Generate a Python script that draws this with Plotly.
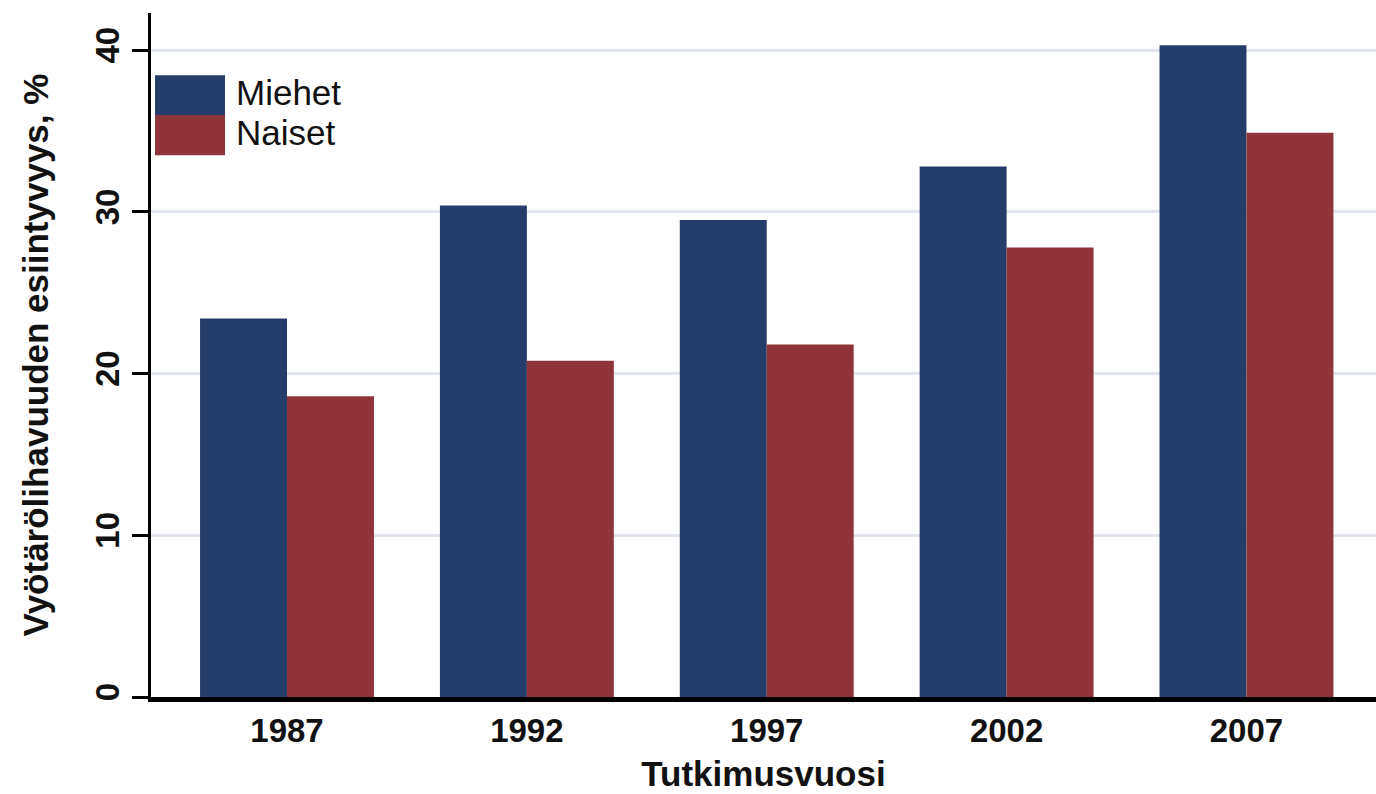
import plotly.graph_objects as go

years = ["1987", "1992", "1997", "2002", "2007"]
miehet = [23.4, 30.4, 29.5, 32.8, 40.3]
naiset = [18.6, 20.8, 21.8, 27.8, 34.9]
series_names = ["Miehet", "Naiset"]
colors = ["#263D6B", "#8F343B"]
y_ticks = [0, 10, 20, 30, 40]

FONT = "Liberation Sans, Arial, sans-serif"

fig = go.Figure()
for name, vals, col in zip(series_names, [miehet, naiset], colors):
    fig.add_trace(go.Bar(x=years, y=vals, name=name, marker=dict(color=col, line=dict(width=0)),
                         showlegend=False))

# legend imitation (large swatches)
sw_x0, sw_x1 = 0.0033, 0.0604
rows = [(0.909, 0.851), (0.851, 0.792)]
for (y1, y0), name, col in zip(rows, series_names, colors):
    fig.add_shape(type="rect", xref="paper", yref="paper", x0=sw_x0, x1=sw_x1, y0=y0, y1=y1,
                  fillcolor=col, line=dict(width=0), layer="above")
    fig.add_annotation(xref="paper", yref="paper", x=sw_x1 + 0.007, y=(y0 + y1) / 2 + 0.004,
                       text=name, showarrow=False, xanchor="left", yanchor="middle",
                       font=dict(family=FONT, size=35, color="#111111"))

fig.update_layout(
    width=1376, height=794,
    margin=dict(l=151, r=0, t=13, b=97),
    plot_bgcolor="white", paper_bgcolor="white",
    barmode="group", bargap=0.275, bargroupgap=0,
    font=dict(family=FONT, color="#111111"),
)
fig.update_xaxes(
    type="category", range=[-0.567, 4.54],
    showline=True, linecolor="black", linewidth=5,
    ticks="", showgrid=False,
    tickfont=dict(family=FONT, size=33, color="#111111", weight="bold"),
    title=dict(text="<b>Tutkimusvuosi</b>", font=dict(family=FONT, size=35, color="#111111"), standoff=15),
)
fig.update_yaxes(
    range=[0, 42.3], tickvals=y_ticks,
    showline=True, linecolor="black", linewidth=3,
    ticks="outside", ticklen=16, tickwidth=3, tickcolor="black",
    tickangle=-90,
    showgrid=True, gridcolor="#E1E5EF", gridwidth=3, zeroline=False,
    tickfont=dict(family=FONT, size=33, color="#111111", weight="bold"),
    title=dict(text="<b>Vyötärölihavuuden esiintyvyys, %</b>", font=dict(family=FONT, size=35, color="#111111"), standoff=30),
)

fig.write_html("out.html", config={"displayModeBar": False},
               post_script="document.body.style.margin='0';document.body.style.overflow='hidden';")
